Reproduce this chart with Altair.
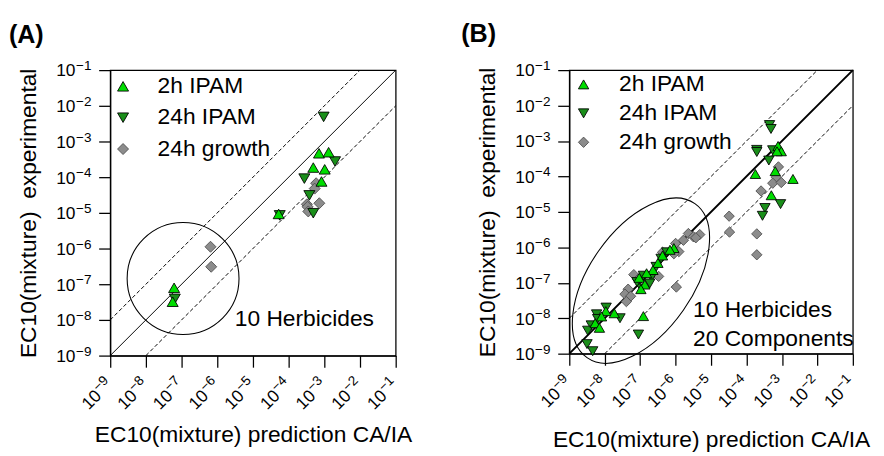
import altair as alt
import pandas as pd

FONT = "Liberation Sans"
BIG = 23.6

series_names = ["2h IPAM", "24h IPAM", "24h growth"]
fill_colors = ["#00dd00", "#1a8f1a", "#8c8c8c"]
stroke_colors = ["#000000", "#000000", "#4d4d4d"]
shapes = ["triangle-up", "triangle-down", "diamond"]
draw_order = ["24h growth", "24h IPAM", "2h IPAM"]

tick_values = [1e-9, 1e-8, 1e-7, 1e-6, 1e-5, 1e-4, 1e-3, 1e-2, 1e-1]
tick_base = ["10"] * 9
tick_exponents = ["−9", "−8", "−7", "−6", "−5", "−4", "−3", "−2", "−1"]

# ---------- Panel A (log10 of EC10) ----------
a_2h_x = [-3.15, -2.88, -3.31, -2.99, -3.08, -4.28, -7.21, -7.25]
a_2h_y = [-3.33, -3.30, -3.73, -3.78, -4.12, -5.03, -7.10, -7.49]
a_24h_x = [-3.02, -2.70, -3.56, -3.42, -3.31, -4.25, -7.19]
a_24h_y = [-2.31, -3.56, -4.04, -4.51, -5.01, -5.07, -7.41]
a_gr_x = [-3.23, -3.27, -3.14, -3.49, -3.47, -3.45, -6.19, -6.17]
a_gr_y = [-4.17, -4.32, -4.73, -4.76, -4.83, -4.96, -5.95, -6.51]

# ---------- Panel B (log10 of EC10) ----------
b_2h_x = [-3.11, -3.02, -3.14, -3.19, -3.75, -2.69, -3.30,
          -6.05, -6.16, -6.37, -6.50, -6.64, -6.82, -7.03, -6.87, -6.98,
          -7.97, -8.09, -7.73, -8.27, -8.15, -6.91]
b_2h_y = [-3.14, -3.29, -3.29, -3.85, -3.93, -4.07, -4.53,
          -6.02, -6.07, -6.23, -6.44, -6.64, -6.73, -6.86, -7.05, -7.18,
          -7.80, -7.95, -7.86, -8.14, -8.27, -7.94]
b_24h_x = [-3.35, -3.31, -3.71, -3.71, -3.26, -3.37, -3.04, -3.48, -3.55,
           -6.25, -6.41, -6.55, -6.91, -6.68, -6.73, -6.96, -7.09,
           -7.96, -8.23, -8.20, -7.57, -8.38, -8.48, -8.50, -8.34, -7.05]
b_24h_y = [-2.55, -2.66, -3.25, -3.31, -3.26, -3.55, -4.78, -4.89, -5.11,
           -6.14, -6.32, -6.55, -6.80, -6.84, -7.02, -7.16, -6.98,
           -7.70, -7.89, -8.02, -8.00, -8.20, -8.35, -8.73, -8.93, -8.46]
b_gr_x = [-3.10, -3.16, -3.26, -3.02, -3.59, -4.49, -4.48, -3.71, -3.71,
          -5.64, -5.50, -5.32, -5.43, -5.78, -6.00, -5.91, -6.05, -6.37,
          -6.48, -7.18, -7.07, -7.34, -7.43, -7.27, -7.39, -5.98]
b_gr_y = [-3.73, -4.02, -4.19, -4.17, -4.41, -5.12, -5.57, -5.62, -6.21,
          -5.61, -5.70, -5.64, -5.73, -5.80, -5.89, -6.12, -6.18, -6.14,
          -6.82, -6.77, -6.91, -7.18, -7.32, -7.38, -7.53, -7.12]

# reference lines (1:1 and factor-10 lines)
diag_x = [1e-9, 1e-1]
diag_y = [1e-9, 1e-1]
upper_x = [1e-9, 1e-2]
upper_y = [1e-8, 1e-1]
lower_x = [1e-8, 1e-1]
lower_y = [1e-9, 1e-2]

# annotations
a_circle_xy = [1.10e-7, 1.45e-7]
b_ellipse_xy = [1.05e-7, 1.15e-7]
a_text = ["10 Herbicides"]
a_text_x = [3.1e-6]
a_text_y = [6.9e-9]
b_text = ["10 Herbicides", "20 Components"]
b_text_x = [3.1e-6, 3.1e-6]
b_text_y = [1.07e-8, 1.7e-9]
a_panel_label = ["(A)"]
a_panel_xy = [10 ** -11.84, 10 ** -0.25]
b_panel_label = ["(B)"]
b_panel_xy = [10 ** -12.05, 10 ** -0.21]

ELLIPSE_PATH = "M -1 0 A 1 0.55 0 1 1 1 0 A 1 0.55 0 1 1 -1 0 Z"


def make_df(series_data):
    rows = []
    for name in draw_order:
        xs, ys = series_data[name]
        for lx, ly in zip(xs, ys):
            rows.append({"series": name, "x": 10 ** lx, "y": 10 ** ly})
    return pd.DataFrame(rows)


def panel(df, size, leg_x, leg_y, row_pad, lab_off, solid_w, x_title_y, y_title_x,
          shape_kind, shape_xy, shape_size, shape_angle, texts, texts_x, texts_y,
          sym_size, plabel, plabel_xy):
    scale = alt.Scale(type="log", domain=[1e-9, 1e-1], nice=False)
    common = dict(values=tick_values, labels=False, tickSize=12, titleFontSize=BIG,
                  titleFontWeight="normal", titleBaseline="alphabetic", titleFont=FONT,
                  titleColor="black", grid=False, domainColor="black", domainWidth=1.3,
                  tickColor="black", tickWidth=1.3)
    xaxis = alt.Axis(title="EC10(mixture) prediction CA/IA", titleY=x_title_y, **common)
    yaxis = alt.Axis(title="EC10(mixture)\u00a0 experimental", titleX=y_title_x, **common)
    X = alt.X("x:Q", scale=scale, axis=xaxis)
    Y = alt.Y("y:Q", scale=scale, axis=yaxis)

    legend = alt.Legend(title=None, orient="none", legendX=leg_x, legendY=leg_y,
                        labelFontSize=BIG, labelFont=FONT, labelColor="black",
                        symbolSize=sym_size, symbolStrokeWidth=0.9,
                        labelOffset=lab_off, rowPadding=row_pad, padding=0)

    def line(xv, yv, dash, w):
        d = pd.DataFrame({"x": xv, "y": yv})
        kw = {"color": "black", "strokeWidth": w}
        if dash:
            kw["strokeDash"] = [4, 2.5]
        return alt.Chart(d).mark_line(**kw).encode(x=X, y=Y)

    layers = [line(diag_x, diag_y, False, solid_w),
              line(upper_x, upper_y, True, 1),
              line(lower_x, lower_y, True, 1)]

    layers.append(alt.Chart(pd.DataFrame({"x": [shape_xy[0]], "y": [shape_xy[1]]})).mark_point(
        shape=shape_kind, filled=False, size=shape_size, angle=shape_angle,
        color="black", strokeWidth=1.1, opacity=1).encode(x=X, y=Y))

    layers.append(alt.Chart(df).mark_point(filled=True, opacity=1, strokeWidth=0.9,
                                           size=sym_size).encode(
        x=X, y=Y,
        color=alt.Color("series:N", scale=alt.Scale(domain=series_names, range=fill_colors), legend=legend),
        stroke=alt.Stroke("series:N", scale=alt.Scale(domain=series_names, range=stroke_colors), legend=legend),
        shape=alt.Shape("series:N", scale=alt.Scale(domain=series_names, range=shapes), legend=legend),
    ))

    layers.append(alt.Chart(pd.DataFrame({"t": texts, "x": texts_x, "y": texts_y})).mark_text(
        align="left", baseline="alphabetic", fontSize=BIG, font=FONT, color="black").encode(
        x=X, y=Y, text="t:N"))

    # panel label
    layers.append(alt.Chart(pd.DataFrame({"t": plabel, "x": [plabel_xy[0]], "y": [plabel_xy[1]]})).mark_text(
        align="left", baseline="alphabetic", fontSize=26, font=FONT, fontWeight="bold",
        color="black").encode(x=X, y=Y, text="t:N"))

    # tick labels: base "10" and superscript exponent
    xlab = pd.DataFrame({"x": tick_values, "y": [1e-9] * 9, "b": tick_base, "e": tick_exponents})
    ylab = pd.DataFrame({"x": [1e-9] * 9, "y": tick_values, "b": tick_base, "e": tick_exponents})
    layers.append(alt.Chart(xlab).mark_text(
        align="right", baseline="alphabetic", angle=315, dx=-36, dy=24.5,
        fontSize=18, font=FONT, color="black").encode(x=X, y=Y, text="b:N"))
    layers.append(alt.Chart(xlab).mark_text(
        align="left", baseline="alphabetic", angle=315, dx=-35.5, dy=17.8,
        fontSize=14, font=FONT, color="black").encode(x=X, y=Y, text="e:N"))
    layers.append(alt.Chart(ylab).mark_text(
        align="right", baseline="alphabetic", dx=-36, dy=6.6,
        fontSize=18, font=FONT, color="black").encode(x=X, y=Y, text="b:N"))
    layers.append(alt.Chart(ylab).mark_text(
        align="left", baseline="alphabetic", dx=-35.5, dy=0,
        fontSize=14, font=FONT, color="black").encode(x=X, y=Y, text="e:N"))

    return alt.layer(*layers).properties(width=size, height=size)


df_a = make_df({"2h IPAM": (a_2h_x, a_2h_y), "24h IPAM": (a_24h_x, a_24h_y),
                "24h growth": (a_gr_x, a_gr_y)})
df_b = make_df({"2h IPAM": (b_2h_x, b_2h_y), "24h IPAM": (b_24h_x, b_24h_y),
                "24h growth": (b_gr_x, b_gr_y)})

pa = panel(df_a, 296, 1.5, 5, 7.5, 24, 1, 88.7, -77,
           "circle", a_circle_xy, 13456, 0, a_text, a_text_x, a_text_y, 130,
           a_panel_label, a_panel_xy)
pb = panel(df_b, 294, 3, 3, 5, 25, 2, 96.6, -78,
           ELLIPSE_PATH, b_ellipse_xy, 38025, 305, b_text, b_text_x, b_text_y, 115,
           b_panel_label, b_panel_xy)

chart = alt.hconcat(pa, pb, spacing=49).resolve_scale(
    color="independent", stroke="independent", shape="independent"
).resolve_legend(
    color="independent", stroke="independent", shape="independent"
).configure_view(stroke="black", strokeWidth=1.3).configure_axis(
    grid=False, labelFont=FONT, titleFont=FONT
).configure_text(font=FONT).configure_legend(labelFont=FONT).properties(
    padding={"left": 0, "top": 5, "right": 5, "bottom": 5}
)

chart.save("out.html", embed_options={"renderer": "svg", "actions": False})
